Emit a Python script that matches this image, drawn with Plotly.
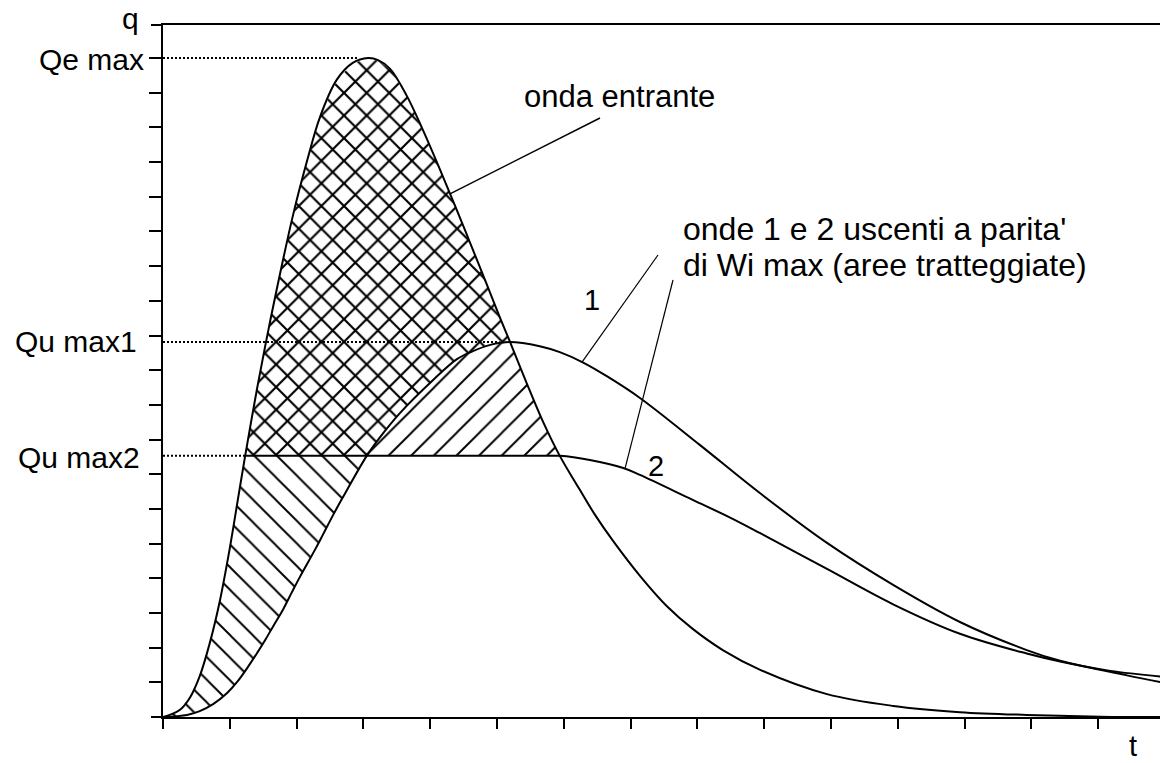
import numpy as np
import plotly.graph_objects as go

# ---------------- data (t and q in tick units) ----------------
inflow_t = [0, 0.10, 0.25, 0.40, 0.55, 0.70, 0.85, 1.00, 1.12, 1.23, 1.41, 1.56, 1.71, 1.95, 2.16,
            2.35, 2.60, 2.84, 3.07, 3.22, 3.40, 3.65, 3.89, 4.15, 4.55, 4.85, 5.01, 5.19, 5.45,
            5.69, 5.94, 6.24, 6.47, 6.74, 7.14, 7.54, 7.93, 8.38, 8.94, 9.94, 10.93, 11.93,
            12.93, 14.03, 14.93]
inflow_q = [0, 0.06, 0.20, 0.55, 1.18, 2.13, 3.34, 4.87, 6.26, 7.53, 9.49, 10.99, 12.40, 14.50,
            16.06, 17.30, 18.37, 18.86, 19.00, 18.94, 18.69, 17.91, 16.93, 15.77, 13.90, 12.46,
            11.68, 10.84, 9.60, 8.51, 7.53, 6.55, 5.82, 5.07, 4.07, 3.20, 2.54, 1.93, 1.36, 0.66,
            0.32, 0.14, 0.06, 0.01, 0.0]

out1_t = [0, 0.36, 0.55, 0.75, 0.96, 1.11, 1.26, 1.41, 1.53, 1.65, 1.80, 1.93, 2.05, 2.28, 2.40,
          2.54, 2.68, 3.05, 3.25, 3.55, 4.04, 4.40, 4.64, 4.90, 5.19, 5.64, 5.94, 6.29, 6.65,
          7.14, 8.04, 8.94, 9.94, 10.93, 11.93, 12.93, 13.43, 14.43, 14.93]
out1_q = [0, 0.06, 0.17, 0.37, 0.69, 1.01, 1.41, 1.85, 2.22, 2.62, 3.11, 3.60, 4.04, 4.84, 5.28,
          5.80, 6.29, 7.53, 8.07, 8.77, 9.71, 10.32, 10.55, 10.73, 10.81, 10.69, 10.52, 10.22,
          9.82, 9.20, 7.84, 6.45, 5.02, 3.81, 2.74, 1.93, 1.62, 1.20, 1.01]

out2_t = [1.23, 5.60, 5.94, 6.39, 6.89, 7.14, 7.93, 8.49, 8.94, 9.94, 10.93, 11.93, 12.93,
          13.43, 14.18, 14.93]
out2_q = [7.53, 7.53, 7.53, 7.41, 7.18, 6.98, 6.26, 5.75, 5.30, 4.27, 3.25, 2.40, 1.83,
          1.60, 1.33, 1.17]

x_ticks = list(range(0, 15))
y_ticks = list(range(1, 20))
level_labels = ["Qe max", "Qu max1", "Qu max2"]
label_1 = "1"
label_2 = "2"
label_in = "onda entrante"
label_out = ["onde 1 e 2 uscenti a parita'", "di Wi max (aree tratteggiate)"]

# ---------------- layout geometry ----------------
W, H = 1160, 763
L_PX, T_PX, B_PX = 163, 25, 717
X_PER = 66.8
Y_PER = 34.68
X_MAX = (W - L_PX) / X_PER
Y_MAX = (B_PX - T_PX) / Y_PER
FONT = "Liberation Sans, Arial, Helvetica, sans-serif"


def px_t(px):
    return (px - L_PX) / X_PER


def py_q(py):
    return (B_PX - py) / Y_PER


def ppx(px):
    return (px - L_PX) / (W - L_PX)


def ppy(py):
    return (B_PX - py) / (B_PX - T_PX)


# ---------------- derived levels and hatched regions ----------------
I_t, I_q = np.array(inflow_t), np.array(inflow_q)
O1_t, O1_q = np.array(out1_t), np.array(out1_q)
O2_t, O2_q = np.array(out2_t), np.array(out2_q)
qe_max = I_q.max()
qu_max1 = O1_q.max()
qu_max2 = O2_q[0]

tg = np.linspace(0, X_MAX, 4000)
Ig = np.interp(tg, I_t, I_q)
O1g = np.interp(tg, O1_t, O1_q)


def poly(mask, upper, lower):
    idx = np.where(mask)[0]
    xs = np.concatenate([tg[idx], tg[idx][::-1]])
    ys = np.concatenate([upper[idx], lower[idx][::-1]])
    return xs, ys


base = np.maximum(O1g, qu_max2)
cross_x, cross_y = poly((Ig > base) & (tg < 7), Ig, base)
up_b = np.minimum(Ig, qu_max2)
back_x, back_y = poly((up_b > O1g) & (tg < 4), up_b, O1g)
up_f = np.minimum(O1g, Ig)
fwd_x, fwd_y = poly((up_f > qu_max2) & (tg > 2.5) & (tg < 7), up_f,
                    np.full_like(tg, qu_max2))

fig = go.Figure()


def add_fill(xs, ys, shape, size, solidity):
    fig.add_trace(go.Scatter(
        x=xs, y=ys, mode="lines", fill="toself", line=dict(width=0),
        fillcolor="rgba(0,0,0,0)",
        fillpattern=dict(shape=shape, size=size, solidity=solidity, fgcolor="black",
                         fgopacity=1, bgcolor="rgba(0,0,0,0)"),
        hoverinfo="skip", showlegend=False))


add_fill(cross_x, cross_y, "x", 16, 0.25)
add_fill(back_x, back_y, "\\", 16, 0.12)
add_fill(fwd_x, fwd_y, "/", 16, 0.12)

for xs, ys in [(inflow_t, inflow_q), (out1_t, out1_q), (out2_t, out2_q)]:
    fig.add_trace(go.Scatter(x=xs, y=ys, mode="lines",
                             line=dict(color="black", width=2, shape="spline", smoothing=1.0),
                             hoverinfo="skip", showlegend=False))

shapes = []
# dotted level lines
t_peak_in = I_t[np.argmax(I_q)]
t_peak_o1 = O1_t[np.argmax(O1_q)]
for q, tend in [(qe_max, t_peak_in - 0.15), (qu_max1, t_peak_o1 - 0.15), (qu_max2, O2_t[0])]:
    shapes.append(dict(type="line", xref="x", yref="y", x0=0, x1=tend, y0=q, y1=q,
                       line=dict(color="black", width=2, dash="2px,2px")))
# leader lines
t_a = px_t(450)
shapes.append(dict(type="line", xref="x", yref="y", x0=t_a, y0=float(np.interp(t_a, I_t, I_q)),
                   x1=px_t(600), y1=py_q(118), line=dict(color="black", width=1.5)))
t_b = px_t(582)
shapes.append(dict(type="line", xref="x", yref="y", x0=t_b,
                   y0=float(np.interp(t_b, O1_t, O1_q)),
                   x1=px_t(658), y1=py_q(255), line=dict(color="black", width=1.2)))
t_c = px_t(625)
shapes.append(dict(type="line", xref="x", yref="y", x0=t_c,
                   y0=float(np.interp(t_c, O2_t, O2_q)),
                   x1=px_t(673), y1=py_q(280), line=dict(color="black", width=1.2)))
# axis line extensions to the left
for yy in (0, 1):
    shapes.append(dict(type="line", xref="paper", yref="paper", x0=ppx(151), x1=0, y0=yy, y1=yy,
                       line=dict(color="black", width=2)))

ann = []


def text(s, px, py, size, xanchor="center"):
    ann.append(dict(text=s, x=ppx(px), y=ppy(py), xref="paper", yref="paper",
                    xanchor=xanchor, yanchor="middle", showarrow=False,
                    font=dict(family=FONT, size=size, color="black")))


text("q", 130, 18, 30)
text("t", 1133, 746, 29)
text(level_labels[0], 146, 59, 30, "right")
text(level_labels[1], 139, 341, 30, "right")
text(level_labels[2], 142, 457, 30, "right")
text(label_in, 522, 97, 31, "left")
text(label_out[0], 681, 229, 32, "left")
text(label_out[1], 681, 265, 32, "left")
text(label_1, 592, 300, 29)
text(label_2, 656, 466, 29)

fig.update_layout(
    width=W, height=H, autosize=False,
    margin=dict(l=L_PX, r=0, t=T_PX, b=H - B_PX, pad=0),
    paper_bgcolor="white", plot_bgcolor="white",
    showlegend=False, shapes=shapes, annotations=ann,
    xaxis=dict(range=[0, X_MAX], showgrid=False, zeroline=False, showline=True,
               linecolor="black", linewidth=2, mirror=True, ticks="outside",
               tickvals=x_ticks, ticklen=10, tickwidth=1.5, tickcolor="black",
               showticklabels=False, fixedrange=True),
    yaxis=dict(range=[0, Y_MAX], showgrid=False, zeroline=False, showline=True,
               linecolor="black", linewidth=2, ticks="outside", tickvals=y_ticks,
               ticklen=12, tickwidth=2, tickcolor="black", showticklabels=False,
               fixedrange=True),
)

fig.write_html("out.html")
